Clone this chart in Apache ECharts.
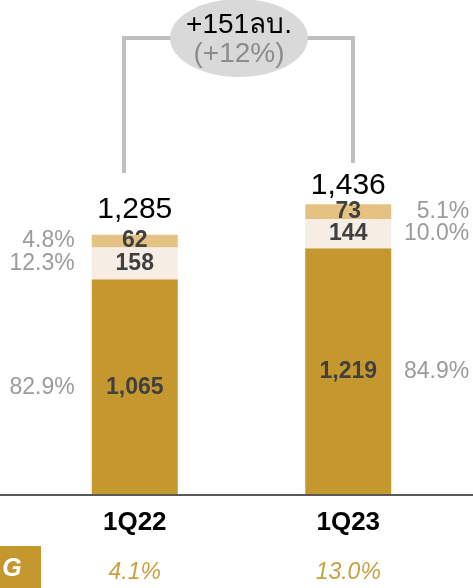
<!DOCTYPE html>
<html><head><meta charset="utf-8">
<script src="https://cdn.jsdelivr.net/npm/echarts@6/dist/echarts.min.js"></script>
<style>html,body{margin:0;padding:0;background:#fff}#c{width:473px;height:588px}</style>
</head><body><div id="c"></div>
<script>
const categories = ['1Q22', '1Q23'];
const coreValues = [1065, 1219];
const midValues = [158, 144];
const topValues = [62, 73];
const totals = [1285, 1436];
const coreShares = ['82.9%', '84.9%'];
const midShares = ['12.3%', '10.0%'];
const topShares = ['4.8%', '5.1%'];
const growth = ['4.1%', '13.0%'];
const changeText = '+151ลบ.';
const changePct = '(+12%)';
const growthTag = 'G';

const FONT = '"Liberation Sans", "Noto Sans", "DejaVu Sans", sans-serif';
const fmt = v => Number(v).toLocaleString('en-US');
const BW = 86;

function segSeries(name, values, color) {
  return {
    name, type: 'bar', stack: 'a', barWidth: BW,
    data: values,
    itemStyle: { color },
    label: {
      show: true, position: 'inside', formatter: p => fmt(p.value),
      fontFamily: FONT, fontWeight: 'bold', fontSize: 23, color: '#404040'
    },
    emphasis: { disabled: true }, silent: true
  };
}
const sharePos = [
  { position: [-17, '50%'], align: 'right' },
  { position: [164, '50%'], align: 'right' }
];
function shareSeries(values, shares) {
  return {
    type: 'bar', stack: 'b', barWidth: BW,
    data: values.map((v, i) => ({ value: v, label: Object.assign({}, sharePos[i]) })),
    itemStyle: { color: 'rgba(0,0,0,0)' },
    label: {
      show: true, verticalAlign: 'middle', formatter: p => shares[p.dataIndex],
      fontFamily: FONT, fontSize: 23, color: '#9b9b9b'
    },
    emphasis: { disabled: true }, silent: true
  };
}
const totalDist = [10, 3];

const option = {
  animation: false,
  backgroundColor: '#fff',
  grid: { left: 28, right: 18, top: 90, bottom: 93 },
  xAxis: [
    {
      type: 'category', data: categories,
      axisLine: { show: false }, axisTick: { show: false },
      axisLabel: { fontFamily: FONT, fontWeight: 'bold', fontSize: 26, color: '#000', margin: 15 }
    },
    {
      type: 'category', data: categories, position: 'bottom', offset: 50,
      axisLine: { show: false }, axisTick: { show: false },
      axisLabel: { formatter: (v, i) => growth[i], fontFamily: FONT, fontStyle: 'italic', fontSize: 23, color: '#c9a042', margin: 16 }
    }
  ],
  yAxis: { type: 'value', min: 0, max: 2000, show: false },
  series: [
    segSeries('core', coreValues, '#C5982F'),
    segSeries('mid', midValues, '#F6EEE4'),
    segSeries('top', topValues, '#E3C283'),
    shareSeries(coreValues, coreShares),
    shareSeries(midValues, midShares),
    shareSeries(topValues, topShares),
    {
      type: 'bar', stack: 'c', barWidth: BW, barGap: '-100%',
      data: totals.map((v, i) => ({ value: v, label: { distance: totalDist[i] } })),
      itemStyle: { color: 'rgba(0,0,0,0)' },
      label: { show: true, position: 'top', formatter: p => fmt(p.value), fontFamily: FONT, fontSize: 30, color: '#000' },
      emphasis: { disabled: true }, silent: true
    }
  ],
  graphic: [
    { type: 'line', shape: { x1: 0, y1: 495, x2: 473, y2: 495 }, style: { stroke: '#595959', lineWidth: 2 }, z: 10 },
    { type: 'polyline', shape: { points: [[124, 173], [124, 38], [353, 38], [353, 163]] }, style: { stroke: '#bfbfbf', lineWidth: 4, fill: null }, z: 10 },
    { type: 'ellipse', shape: { cx: 239, cy: 38, rx: 69, ry: 39 }, style: { fill: '#d9d9d9' }, z: 11 },
    { type: 'text', x: 239, y: 25, style: { text: changeText, fontFamily: FONT, fontSize: 28, fill: '#000', align: 'center', verticalAlign: 'middle' }, z: 12 },
    { type: 'text', x: 239, y: 54, style: { text: changePct, fontFamily: FONT, fontSize: 28, fill: '#8c8c8c', align: 'center', verticalAlign: 'middle' }, z: 12 },
    { type: 'rect', shape: { x: 0, y: 546, width: 41, height: 42 }, style: { fill: '#C5982F' }, z: 10 },
    { type: 'text', x: 12, y: 569, style: { text: growthTag, fontFamily: FONT, fontSize: 25, fontWeight: 'bold', fontStyle: 'italic', fill: '#fff', align: 'center', verticalAlign: 'middle' }, z: 12 }
  ]
};
const chart = echarts.init(document.getElementById('c'), null, { renderer: 'canvas' });
chart.setOption(option);
</script></body></html>
